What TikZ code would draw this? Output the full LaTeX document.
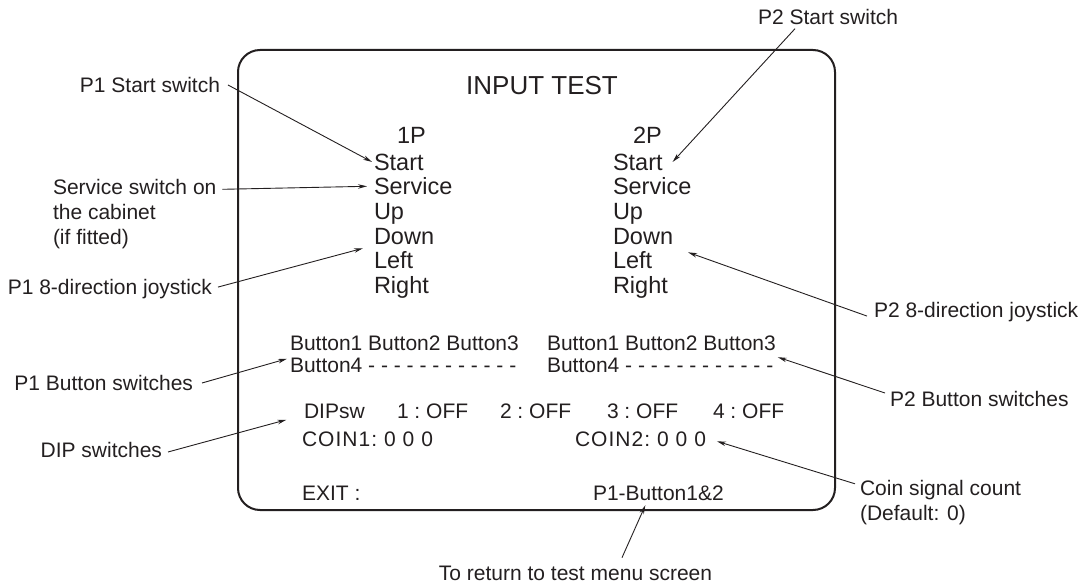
\documentclass[tikz,border=0pt]{standalone}
\usepackage{fontspec}
\setmainfont{Liberation Sans}
\usetikzlibrary{positioning,calc,arrows.meta}
\definecolor{inkgray}{RGB}{35,31,32}

\begin{document}
\begin{tikzpicture}[
    x=1pt, y=-1pt,
    every node/.style={inner sep=0pt, outer sep=0pt, text=inkgray},
    title_text/.style={font=\fontsize{26}{30}\selectfont, anchor=base},
    screen_text/.style={font=\fontsize{23.5}{28}\selectfont, anchor=base west},
    small_text/.style={font=\fontsize{21}{25}\selectfont, anchor=base west},
    note_text/.style={font=\fontsize{21}{25}\selectfont},
    pointer/.style={-{Stealth[length=9pt,width=4.5pt]}, line width=0.9pt, inkgray}
]
\useasboundingbox (0,0) rectangle (1085,586);

% Screen frame
\draw[line width=2pt, rounded corners=22pt, inkgray] (238,50) rectangle (835,510);

% Screen contents
\node[title_text] (title) at (542,95) {INPUT TEST};
\node[screen_text] (onep) at (397,143) {1P};
\node[screen_text] (twop) at (633,143) {2P};

\foreach \name [count=\i] in {Start,Service,Up,Down,Left,Right}
{
    \node[screen_text] (a\i) at (374,{170+(\i-1)*24.7}) {\name};
    \node[screen_text] (b\i) at (613,{170+(\i-1)*24.7}) {\name};
}

% Buttons
\node[small_text] (abtn) at (290,350.5) {Button1 Button2 Button3};
\node[small_text] (abtnfour) at (290,372.5) {Button4 - - - - - - - - - - - -};
\node[small_text] (bbtn) at (547,350.5) {Button1 Button2 Button3};
\node[small_text] (bbtnfour) at (547,372.5) {Button4 - - - - - - - - - - - -};

% DIP switches and coin counters
\node[small_text] (dipsw) at (304,418.5) {DIPsw};
\foreach \x/\n in {397/1, 500/2, 607/3, 713/4}
    \node[small_text] (dip\n) at (\x,418.5) {\n\ :\ OFF};
\node[small_text] (coinone) at (302,446.5) {\addfontfeature{LetterSpace=5}COIN1:\ 0 0 0};
\node[small_text] (cointwo) at (575,446.5) {\addfontfeature{LetterSpace=5}COIN2:\ 0 0 0};

% Exit line
\node[small_text] (exit) at (302,500) {EXIT :};
\node[small_text] (exitkey) at (593,500) {P1-Button1\&2};

% Callouts
\node[note_text, anchor=base east] (p1start) at (220,92.5) {P1 Start switch};
\node[note_text, anchor=north west, align=left] (service) at (53,179.3) {Service switch on\\the cabinet\\(if fitted)};
\node[note_text, anchor=base east] (p1joy) at (212,294.5) {P1 8-direction joystick};
\node[note_text, anchor=base east] (p1btn) at (193,390.5) {P1 Button switches};
\node[note_text, anchor=base east] (diplabel) at (162,457.5) {DIP switches};
\node[note_text, anchor=base west] (p2start) at (758,24.5) {P2 Start switch};
\node[note_text, anchor=base west] (p2joy) at (874,317.5) {P2 8-direction joystick};
\node[note_text, anchor=base west] (p2btn) at (890,406.5) {P2 Button switches};
\node[note_text, anchor=north west, align=left] (coincount) at (860,480.3) {Coin signal count\\(Default: 0)};
\node[note_text, anchor=base] (goback) at (575.5,580.5) {To return to test menu screen};

% Pointers
\draw[pointer] ([xshift=8pt]p1start.east) -- ([xshift=-2pt]a1.west);
\draw[pointer] ($(service.north east)+(6,10)$) -- ([xshift=-7pt]a2.west);
\draw[pointer] ([shift={(6,-2)}]p1joy.east) -- ($(a4.west)!0.5!(a5.west)+(-11,0)$);
\draw[pointer] ([xshift=9pt]p1btn.east) -- ($(abtn.west)!0.7!(abtnfour.west)+(-3,0)$);
\draw[pointer] ([shift={(6,2)}]diplabel.east) -- ($(dipsw.west)!0.3!(coinone.west)+(-17,0)$);
\draw[pointer] ($(p2start.south west)+(37,4)$) -- ([xshift=10pt]b1.east);
\draw[pointer] ([shift={(-7,4)}]p2joy.west) -- ([shift={(15,8)}]b4.south east);
\draw[pointer] ([shift={(-5,-6)}]p2btn.west) -- ([shift={(2,6.5)}]bbtn.south east);
\draw[pointer] ([shift={(-5,3.5)}]coincount.north west) -- ([shift={(11,2)}]cointwo.east);
\draw[pointer] ($(goback.north)+(46.5,-8.4)$) -- ([shift={(-13,5)}]exitkey.south);

\end{tikzpicture}
\end{document}
